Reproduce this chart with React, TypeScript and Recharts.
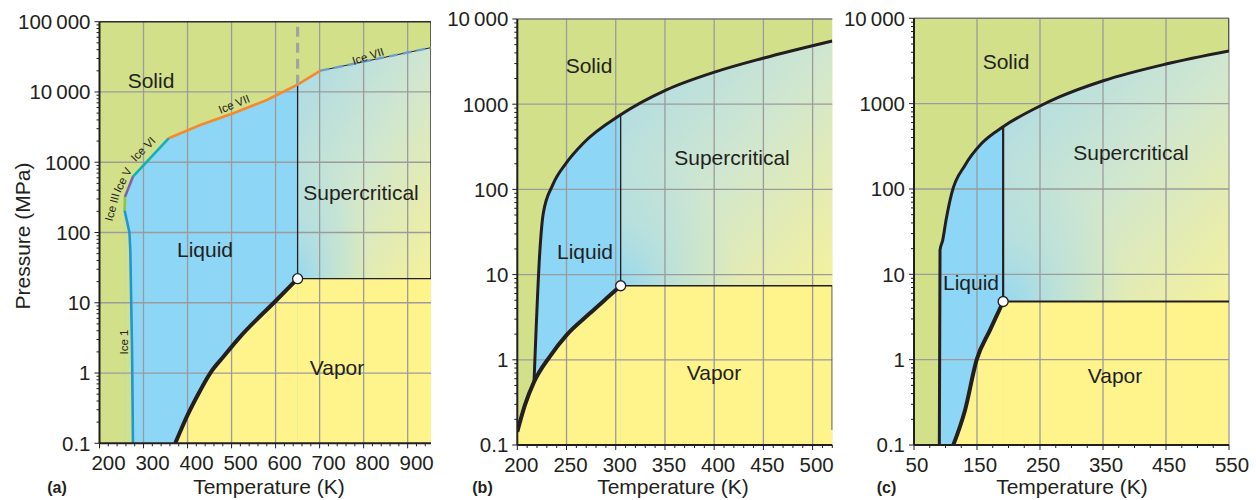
import React from 'react';
import { ComposedChart, Area, Line, XAxis, YAxis, CartesianGrid, ReferenceLine, ReferenceDot } from 'recharts';

const FONT = '"Liberation Sans", Arial, Helvetica, sans-serif';
const INK = '#231f20';
const GREEN = '#d3e08a';
const BLUE = '#8dd6f6';
const YELLOW = '#fff38b';
const GRID = '#9b9b9b';

type Pt = { t: number; p: number };

// ---------- Panel (a): water ----------
const aXTicks = [200, 300, 400, 500, 600, 700, 800, 900];
const aYTicks = [0.1, 1, 10, 100, 1000, 10000, 100000];
const aXDomain = [200, 953];
const aYDomain = [0.1, 100000];
// melting curve: Ice Ih (0-4), Ice III (4-5), Ice V (5-6), Ice VI (6-7), Ice VII (7-12), high-T Ice VII (12-13)
const aMelt: Pt[] = [
  { t: 276, p: 0.1 }, { t: 274, p: 2 }, { t: 270, p: 56 }, { t: 268, p: 100 }, { t: 257, p: 205 },
  { t: 258, p: 324 }, { t: 276, p: 624 }, { t: 357, p: 2190 }, { t: 429, p: 3390 }, { t: 504, p: 4980 },
  { t: 580, p: 7690 }, { t: 650, p: 12700 }, { t: 702, p: 20100 }, { t: 953, p: 42700 },
];
const aVapor: Pt[] = [
  { t: 372, p: 0.1 }, { t: 383.4, p: 0.147 }, { t: 398.6, p: 0.241 }, { t: 421.4, p: 0.463 }, { t: 451.6, p: 1 },
  { t: 481.8, p: 1.72 }, { t: 519.8, p: 3.3 }, { t: 600, p: 10.6 }, { t: 650, p: 22 },
];
const aCritical: Pt = { t: 650, p: 22 };
const aCritIdx = 11;
const aIceColors = ['#1b98d5', '#8cc63f', '#7f5fa8', '#12b0b5', '#f58a2c'];
const aIceSegments: [number, number][] = [[0, 4], [4, 5], [5, 6], [6, 7], [7, 12]];

// ---------- Panel (b): carbon dioxide ----------
const bXTicks = [200, 250, 300, 350, 400, 450, 500];
const bYTicks = [0.1, 1, 10, 100, 1000, 10000];
const bXDomain = [200, 520];
const bYDomain = [0.1, 10000];
const bMelt: Pt[] = [
  { t: 217, p: 0.55 }, { t: 223, p: 19.5 }, { t: 226.4, p: 52.5 }, { t: 236, p: 113 }, { t: 249.4, p: 202 },
  { t: 267, p: 348 }, { t: 305, p: 750 }, { t: 351.5, p: 1470 }, { t: 402, p: 2410 }, { t: 449.5, p: 3460 },
  { t: 520, p: 5520 },
];
const bVapor: Pt[] = [
  { t: 200, p: 0.143 }, { t: 207.8, p: 0.295 }, { t: 217, p: 0.55 }, { t: 233.2, p: 1.1 }, { t: 250, p: 1.95 },
  { t: 273.7, p: 3.51 }, { t: 290.7, p: 5.27 }, { t: 305, p: 7.4 },
];
const bCritical: Pt = { t: 305, p: 7.4 };
const bCritIdx = 6;

// ---------- Panel (c): methane ----------
const cXTicks = [50, 150, 250, 350, 450, 550];
const cYTicks = [0.1, 1, 10, 100, 1000, 10000];
const cXDomain = [50, 550];
const cYDomain = [0.1, 10000];
const cMelt: Pt[] = [
  { t: 90.2, p: 0.1 }, { t: 91.3, p: 19.2 }, { t: 95.5, p: 25 }, { t: 100.8, p: 43 }, { t: 109.8, p: 89 },
  { t: 131, p: 190 }, { t: 157.5, p: 343 }, { t: 191.5, p: 536 }, { t: 250, p: 938 }, { t: 281.7, p: 1205 },
  { t: 350.5, p: 1855 }, { t: 450, p: 2910 }, { t: 550, p: 4140 },
];
const cVapor: Pt[] = [
  { t: 112.4, p: 0.1 }, { t: 131, p: 0.256 }, { t: 149.5, p: 1 }, { t: 170.6, p: 2.22 }, { t: 186.5, p: 3.98 },
  { t: 191.5, p: 4.8 },
];
const cCritical: Pt = { t: 191.5, p: 4.8 };
const cCritIdx = 7;

const THIN = '\u2009';
const fmt = (v: number) => (v >= 10000 ? `${Math.floor(v / 1000)}${THIN}000` : String(v));

function logTicks(lo: number, hi: number): number[] {
  const out: number[] = [];
  for (let d = lo; d < hi * 0.999; d *= 10) {
    for (let k = 1; k <= 9; k++) out.push(Number((d * k).toPrecision(3)));
  }
  out.push(hi);
  return out;
}
function linTicks(lo: number, hi: number, step: number): number[] {
  const out: number[] = [];
  for (let v = lo; v <= hi + 1e-9; v += step) out.push(Number(v.toFixed(3)));
  return out;
}
const isIn = (arr: number[], v: number) => arr.some((m) => Math.abs(m - v) < 1e-6 * Math.max(1, m));

const TICK_FS = 20.5;
const TEXT_FS = 21;

const makeXTick = (majors: number[], dx: number) => (props: any) => {
  const { x, y, payload } = props;
  const v = payload.value;
  const major = isIn(majors, v);
  return (
    <g>
      <line x1={x} x2={x} y1={y} y2={y + (major ? 5 : 3)} stroke={INK} strokeWidth={1} />
      {major && (
        <text x={x + dx} y={y + 12} dy="0.71em" textAnchor="middle" fontSize={TICK_FS} fontFamily={FONT} fill={INK}>
          {fmt(v)}
        </text>
      )}
    </g>
  );
};
const makeYTick = (majors: number[]) => (props: any) => {
  const { x, y, payload } = props;
  const v = payload.value;
  const major = isIn(majors, v);
  return (
    <g>
      <line x1={x} x2={x - (major ? 5 : 3)} y1={y} y2={y} stroke={INK} strokeWidth={1} />
      {major && (
        <text x={x - 9} y={y} dy="0.36em" textAnchor="end" fontSize={TICK_FS} fontFamily={FONT} fill={INK}>
          {fmt(v)}
        </text>
      )}
    </g>
  );
};

type PanelProps = {
  id: string;
  left: number;
  width: number;
  yAxisW: number;
  marginRight: number;
  top: number;
  bottom: number;
  xDomain: number[];
  yDomain: number[];
  xTicks: number[];
  xMinorStep: number;
  yTicks: number[];
  dx: number;
  melt: Pt[];
  meltType: 'linear' | 'monotoneX';
  liquidFrom: number;
  critIdx: number;
  vapor: Pt[];
  crit: Pt;
  meltWidth: number;
  isoWidth: number;
  topColor: string;
  extra?: React.ReactNode[];
  rightBorder?: Pt[];
};

function Panel(pr: PanelProps) {
  const H = 500;
  const xAxisH = 30;
  const xAll = linTicks(pr.xDomain[0], pr.xDomain[1], pr.xMinorStep);
  pr.xTicks.forEach((v) => { if (!isIn(xAll, v)) xAll.push(v); });
  xAll.sort((a, b) => a - b);
  const yAll = logTicks(pr.yDomain[0], pr.yDomain[1]);
  const xMax = pr.xDomain[1];
  const yMin = pr.yDomain[0];
  const yMax = pr.yDomain[1];
  const liquid = pr.melt.slice(pr.liquidFrom, pr.critIdx + 1);
  const cover = pr.liquidFrom > 0 ? pr.melt.slice(0, pr.liquidFrom + 1).slice().reverse() : null;
  const superTop = pr.melt.slice(pr.critIdx);
  const vaporRect = [pr.crit, { t: xMax, p: pr.crit.p }];
  const isotherm = [pr.crit, pr.melt[pr.critIdx]];
  const isobar = [pr.crit, { t: xMax, p: pr.crit.p }];
  return (
    <div style={{ position: 'absolute', left: pr.left, top: 0 }}>
      <ComposedChart
        width={pr.width}
        height={H}
        margin={{ top: pr.top, right: pr.marginRight, left: 0, bottom: H - pr.bottom - xAxisH }}
      >
        <defs>
          <linearGradient id={`${pr.id}-sc`} x1="0" y1="0" x2="1" y2="1">
            <stop offset="0" stopColor="#a9dae8" />
            <stop offset="0.5" stopColor="#cfe6d0" />
            <stop offset="0.8" stopColor="#e6ecb0" />
            <stop offset="1" stopColor="#f5f29c" />
          </linearGradient>
          <radialGradient id={`${pr.id}-scr`} cx="0" cy="1" r="0.55">
            <stop offset="0" stopColor="#92d7f1" stopOpacity={0.95} />
            <stop offset="0.5" stopColor="#a6dbe8" stopOpacity={0.45} />
            <stop offset="1" stopColor="#a6dbe8" stopOpacity={0} />
          </radialGradient>
        </defs>
        <CartesianGrid fill={GREEN} fillOpacity={1} stroke="none" horizontal={false} vertical={false} />
        <XAxis
          type="number"
          dataKey="t"
          domain={pr.xDomain}
          allowDataOverflow
          ticks={xAll}
          interval={0}
          tick={makeXTick(pr.xTicks, pr.dx)}
          tickLine={false}
          tickSize={0}
          tickMargin={0}
          height={xAxisH}
          axisLine={{ stroke: INK, strokeWidth: 2 }}
        />
        <YAxis
          type="number"
          dataKey="p"
          scale="log"
          domain={pr.yDomain}
          allowDataOverflow
          ticks={yAll}
          interval={0}
          tick={makeYTick(pr.yTicks)}
          tickLine={false}
          tickSize={0}
          tickMargin={0}
          width={pr.yAxisW}
          axisLine={{ stroke: INK, strokeWidth: 2 }}
        />
        <Area data={liquid} dataKey="p" type={pr.meltType} baseValue={yMin} fill={BLUE} fillOpacity={1} stroke="none" isAnimationActive={false} />
        {cover && (
          <Area data={cover} dataKey="p" type="linear" baseValue={yMin} fill={GREEN} fillOpacity={1} stroke="none" isAnimationActive={false} />
        )}
        <Area data={pr.vapor} dataKey="p" type="monotoneX" baseValue={yMin} fill={YELLOW} fillOpacity={1} stroke="none" isAnimationActive={false} />
        <Area data={vaporRect} dataKey="p" type="linear" baseValue={yMin} fill={YELLOW} fillOpacity={1} stroke="none" isAnimationActive={false} />
        <Area data={superTop} dataKey="p" type={pr.meltType} baseValue={pr.crit.p} fill={`url(#${pr.id}-sc)`} fillOpacity={1} stroke="none" isAnimationActive={false} />
        <Area data={superTop} dataKey="p" type={pr.meltType} baseValue={pr.crit.p} fill={`url(#${pr.id}-scr)`} fillOpacity={1} stroke="none" isAnimationActive={false} />
        {pr.xTicks.filter((v) => v > pr.xDomain[0]).map((v) => (
          <ReferenceLine key={`gx${v}`} x={v} stroke={GRID} strokeWidth={1.3} />
        ))}
        {pr.yTicks.filter((v) => v > yMin && v < yMax).map((v) => (
          <ReferenceLine key={`gy${v}`} y={v} stroke={GRID} strokeWidth={1.3} />
        ))}
        <ReferenceLine y={yMax} stroke={pr.topColor} strokeWidth={1.5} />
        {pr.rightBorder && (
          <Line data={pr.rightBorder} dataKey="p" type="linear" stroke="#3a3a3a" strokeWidth={1.5} dot={false} isAnimationActive={false} />
        )}
        <Line data={isotherm} dataKey="p" type="linear" stroke={INK} strokeWidth={pr.isoWidth} dot={false} isAnimationActive={false} />
        <Line data={isobar} dataKey="p" type="linear" stroke={INK} strokeWidth={pr.isoWidth} dot={false} isAnimationActive={false} />
        <Line data={pr.melt} dataKey="p" type={pr.meltType} stroke={INK} strokeWidth={pr.meltWidth} dot={false} isAnimationActive={false} />
        {pr.extra}
        <Line data={pr.vapor} dataKey="p" type="monotoneX" stroke={INK} strokeWidth={4} dot={false} isAnimationActive={false} />
        <ReferenceDot x={pr.crit.t} y={pr.crit.p} r={5} fill="#ffffff" stroke={INK} strokeWidth={1.3} />
      </ComposedChart>
    </div>
  );
}

const aExtras: React.ReactNode[] = [
  ...aIceSegments.map(([s, e], i) => (
    <Line key={`ice${i}`} data={aMelt.slice(s, e + 1)} dataKey="p" type="linear" stroke={aIceColors[i]} strokeWidth={2.6} dot={false} isAnimationActive={false} />
  )),
  <Line key="ice7h" data={aMelt.slice(12)} dataKey="p" type="linear" stroke="#6c9fcb" strokeWidth={2.4} strokeDasharray="9 5" dot={false} isAnimationActive={false} />,
  <Line key="dash" data={[aMelt[aCritIdx], { t: aCritical.t, p: aYDomain[1] }]} dataKey="p" type="linear" stroke="#a3a3a3" strokeWidth={3.2} strokeDasharray="10 6" dot={false} isAnimationActive={false} />,
];

type Lbl = { text: string; x: number; y: number; rot?: number };
const regionLabels: Lbl[] = [
  { text: 'Solid', x: 151, y: 80 },
  { text: 'Liquid', x: 205, y: 249 },
  { text: 'Supercritical', x: 361, y: 192 },
  { text: 'Vapor', x: 337, y: 367 },
  { text: 'Solid', x: 589, y: 65 },
  { text: 'Liquid', x: 585, y: 251 },
  { text: 'Supercritical', x: 732, y: 157 },
  { text: 'Vapor', x: 714, y: 372 },
  { text: 'Solid', x: 1006, y: 61 },
  { text: 'Liquid', x: 971, y: 282 },
  { text: 'Supercritical', x: 1131, y: 152 },
  { text: 'Vapor', x: 1115, y: 375 },
];
const iceLabels: Lbl[] = [
  { text: 'Ice 1', x: 124, y: 342, rot: -90 },
  { text: 'Ice III', x: 112, y: 207, rot: -75 },
  { text: 'Ice V', x: 122.5, y: 180, rot: -63 },
  { text: 'Ice VI', x: 143, y: 149, rot: -45 },
  { text: 'Ice VII', x: 234, y: 104, rot: -22 },
  { text: 'Ice VII', x: 368, y: 56, rot: -18 },
];
const axisTitles: Lbl[] = [
  { text: 'Temperature (K)', x: 269, y: 486.5 },
  { text: 'Temperature (K)', x: 673, y: 486.5 },
  { text: 'Temperature (K)', x: 1072, y: 486.5 },
  { text: 'Pressure (MPa)', x: 22, y: 236, rot: -90 },
];
const panelTags: Lbl[] = [
  { text: '(a)', x: 57, y: 487 },
  { text: '(b)', x: 482.5, y: 487 },
  { text: '(c)', x: 886.5, y: 487 },
];

export default function App() {
  return (
    <div style={{ position: 'absolute', left: 0, top: 0, width: 1256, height: 500, background: '#ffffff', fontFamily: FONT }}>
      <Panel
        id="pa" left={0} width={440} yAxisW={99.5} marginRight={9} top={21.7} bottom={443.3}
        xDomain={aXDomain} yDomain={aYDomain} xTicks={aXTicks} xMinorStep={20} yTicks={aYTicks} dx={9}
        melt={aMelt} meltType="linear" liquidFrom={4} critIdx={aCritIdx} vapor={aVapor} crit={aCritical}
        meltWidth={1} isoWidth={1.3} topColor="#2a2a2a" extra={aExtras}
        rightBorder={[{ t: aXDomain[1], p: aYDomain[1] }, { t: aXDomain[1], p: aCritical.p }]}
      />
      <Panel
        id="pb" left={440} width={400} yAxisW={77.3} marginRight={7.7} top={19} bottom={445}
        xDomain={bXDomain} yDomain={bYDomain} xTicks={bXTicks} xMinorStep={10} yTicks={bYTicks} dx={4}
        melt={bMelt} meltType="monotoneX" liquidFrom={0} critIdx={bCritIdx} vapor={bVapor} crit={bCritical}
        meltWidth={3} isoWidth={1.3} topColor="#7a7a7a"
        rightBorder={[{ t: bXDomain[1], p: bCritical.p }, { t: bXDomain[1], p: 0.15 }]}
      />
      <Panel
        id="pc" left={840} width={416} yAxisW={74} marginRight={27} top={18.3} bottom={445}
        xDomain={cXDomain} yDomain={cYDomain} xTicks={cXTicks} xMinorStep={25} yTicks={cYTicks} dx={3}
        melt={cMelt} meltType="monotoneX" liquidFrom={0} critIdx={cCritIdx} vapor={cVapor} crit={cCritical}
        meltWidth={3} isoWidth={2.2} topColor="#7a7a7a"
        rightBorder={[{ t: cXDomain[1], p: cYDomain[1] }, { t: cXDomain[1], p: cMelt[cMelt.length - 1].p }]}
      />
      <svg width={1256} height={500} style={{ position: 'absolute', left: 0, top: 0, pointerEvents: 'none' }}>
        {regionLabels.map((l, i) => (
          <text key={`r${i}`} x={l.x} y={l.y} dy="0.36em" textAnchor="middle" fontSize={TEXT_FS} fontFamily={FONT} fill={INK}>{l.text}</text>
        ))}
        {iceLabels.map((l, i) => (
          <text key={`i${i}`} x={l.x} y={l.y} dy="0.36em" textAnchor="middle" fontSize={11.5} fontFamily={FONT} fill={INK}
            transform={`rotate(${l.rot} ${l.x} ${l.y})`}>{l.text}</text>
        ))}
        {axisTitles.map((l, i) => (
          <text key={`a${i}`} x={l.x} y={l.y} dy="0.36em" textAnchor="middle" fontSize={TEXT_FS} fontFamily={FONT} fill={INK}
            transform={l.rot ? `rotate(${l.rot} ${l.x} ${l.y})` : undefined}>{l.text}</text>
        ))}
        {panelTags.map((l, i) => (
          <text key={`p${i}`} x={l.x} y={l.y} dy="0.36em" textAnchor="middle" fontSize={16} fontWeight="bold" fontFamily={FONT} fill={INK}>{l.text}</text>
        ))}
      </svg>
    </div>
  );
}
